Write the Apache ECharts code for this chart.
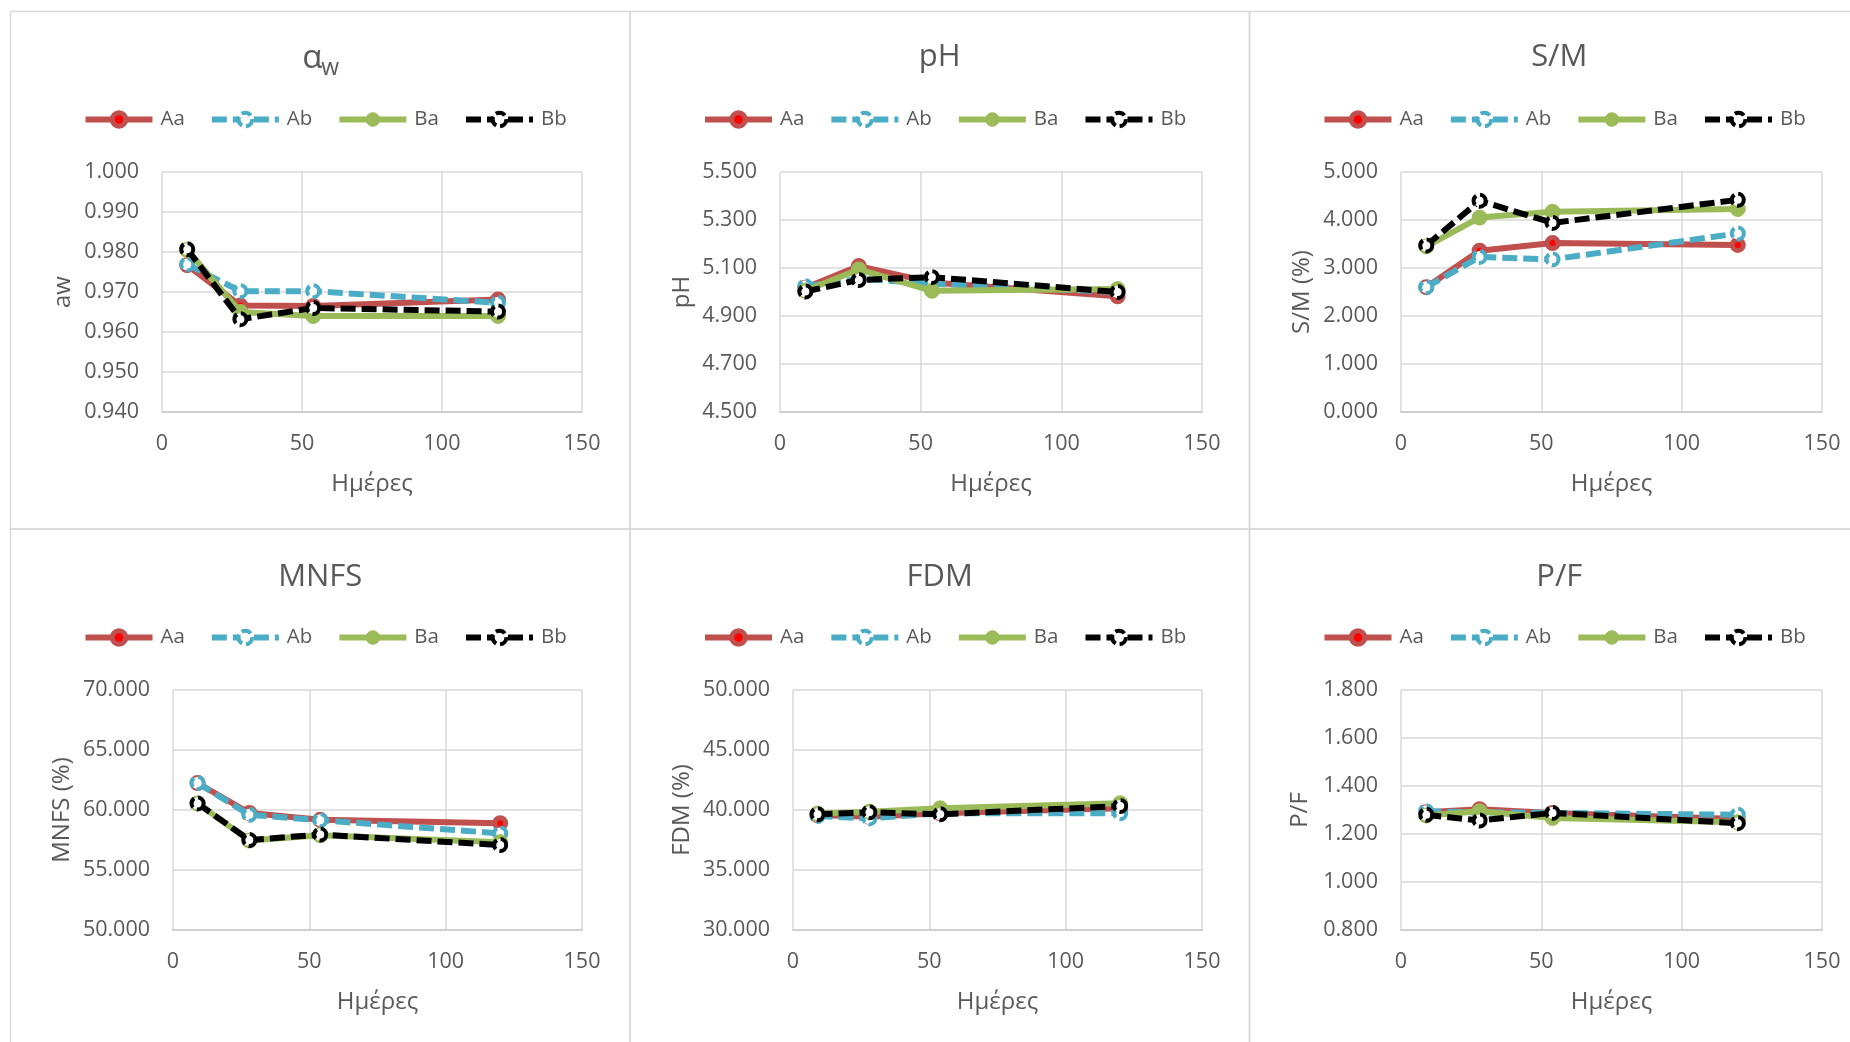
<!DOCTYPE html>
<html>
<head>
<meta charset="utf-8">
<script src="https://cdn.jsdelivr.net/npm/echarts@6/dist/echarts.min.js"></script>
<style>
  html, body { margin: 0; padding: 0; background: #ffffff; }
  #chart { width: 1850px; height: 1042px; }
</style>
</head>
<body>
<div id="chart"></div>
<script>
// Sampling days (x axis)
const days = [9, 28, 54, 120];
const groups = ['Aa', 'Ab', 'Ba', 'Bb'];

// Water activity
const awAa = [0.9767, 0.9666, 0.9665, 0.9681];
const awAb = [0.9769, 0.9702, 0.9702, 0.9673];
const awBa = [0.9805, 0.9650, 0.9640, 0.9640];
const awBb = [0.9807, 0.9632, 0.9660, 0.9651];

// pH
const phAa = [5.018, 5.108, 5.040, 4.982];
const phAb = [5.024, 5.055, 5.035, 5.000];
const phBa = [5.005, 5.094, 5.005, 5.012];
const phBb = [5.002, 5.050, 5.062, 5.000];

// Salt in moisture (%)
const smAa = [2.60, 3.36, 3.52, 3.48];
const smAb = [2.60, 3.23, 3.18, 3.72];
const smBa = [3.45, 4.05, 4.17, 4.23];
const smBb = [3.47, 4.40, 3.94, 4.42];

// Moisture in non-fat substance (%)
const mnfsAa = [62.25, 59.75, 59.18, 58.90];
const mnfsAb = [62.25, 59.60, 59.15, 58.05];
const mnfsBa = [60.55, 57.45, 57.90, 57.32];
const mnfsBb = [60.55, 57.50, 57.95, 57.08];

// Fat in dry matter (%)
const fdmAa = [39.58, 39.44, 39.72, 40.14];
const fdmAb = [39.50, 39.30, 39.72, 39.72];
const fdmBa = [39.70, 39.86, 40.14, 40.56];
const fdmBb = [39.64, 39.81, 39.64, 40.33];

// Protein / fat ratio
const pfAa = [1.291, 1.303, 1.287, 1.263];
const pfAb = [1.295, 1.290, 1.288, 1.280];
const pfBa = [1.277, 1.295, 1.267, 1.249];
const pfBb = [1.280, 1.256, 1.288, 1.245];

// Axis ranges: [min, max, step]
const xRange = [0, 150, 50];
const awRange = [0.94, 1.00, 0.01];
const phRange = [4.5, 5.5, 0.2];
const smRange = [0, 5, 1];
const mnfsRange = [50, 70, 5];
const fdmRange = [30, 50, 5];
const pfRange = [0.8, 1.8, 0.2];

const FONT = 'Open Sans';
const TEXT = '#595959';
const GRID_LINE = '#D9D9D9';

const groupStyles = {
  Aa: { line: '#C0504D', dash: 'solid', fill: '#FF0000', border: '#C0504D', bw: 5, size: 11, btype: 'solid' },
  Ab: { line: '#4BACC6', dash: [15, 6], fill: '#FFFFFF', border: '#4BACC6', bw: 4, size: 12, btype: [10, 4] },
  Ba: { line: '#9BBB59', dash: 'solid', fill: '#9BBB59', border: '#9BBB59', bw: 1, size: 15, btype: 'solid' },
  Bb: { line: '#000000', dash: [15, 6], fill: '#FFFFFF', border: '#000000', bw: 4, size: 12, btype: [10, 4] }
};

// Panel frames: three columns, two rows
const colX = [10.5, 630, 1249.5];
const colW = 619.5;
const rowY = [11.5, 529];
const rowH = 517.5;

const panels = [
  { title: 'aw', yName: 'aw', series: [awAa, awAb, awBa, awBb], range: awRange, col: 0, row: 0, gridLeft: 162, gridWidth: 420, nameGap: 87 },
  { title: 'pH', yName: 'pH', series: [phAa, phAb, phBa, phBb], range: phRange, col: 1, row: 0, gridLeft: 780, gridWidth: 422, nameGap: 86 },
  { title: 'S/M', yName: 'S/M (%)', series: [smAa, smAb, smBa, smBb], range: smRange, col: 2, row: 0, gridLeft: 1401, gridWidth: 421, nameGap: 87 },
  { title: 'MNFS', yName: 'MNFS (%)', series: [mnfsAa, mnfsAb, mnfsBa, mnfsBb], range: mnfsRange, col: 0, row: 1, gridLeft: 173, gridWidth: 409, nameGap: 99 },
  { title: 'FDM', yName: 'FDM (%)', series: [fdmAa, fdmAb, fdmBa, fdmBb], range: fdmRange, col: 1, row: 1, gridLeft: 793, gridWidth: 409, nameGap: 99 },
  { title: 'P/F', yName: 'P/F', series: [pfAa, pfAb, pfBa, pfBb], range: pfRange, col: 2, row: 1, gridLeft: 1401, gridWidth: 421, nameGap: 89 }
];

const gridTop = [172, 690];
const gridHeight = 240;
const titleY = [57.5, 577];
const legendTop = [109, 627];

const grid = [], xAxis = [], yAxis = [], series = [], legend = [], graphic = [];

panels.forEach((p, i) => {
  grid.push({ left: p.gridLeft, top: gridTop[p.row], width: p.gridWidth, height: gridHeight, containLabel: false });

  xAxis.push({
    type: 'value', gridIndex: i,
    min: xRange[0], max: xRange[1], interval: xRange[2],
    name: 'Ημέρες', nameLocation: 'middle', nameGap: 60,
    nameTextStyle: { fontFamily: FONT, fontSize: 24, color: TEXT },
    axisLine: { show: true, lineStyle: { color: '#CFCFCF', width: 2 } },
    axisTick: { show: false },
    axisLabel: { margin: 21, fontFamily: FONT, fontSize: 21.5, color: TEXT },
    splitLine: { show: true, lineStyle: { color: GRID_LINE, width: 1.5 } }
  });

  yAxis.push({
    type: 'value', gridIndex: i,
    min: p.range[0], max: p.range[1], interval: p.range[2],
    name: p.yName, nameLocation: 'middle', nameGap: p.nameGap,
    nameTextStyle: { fontFamily: FONT, fontSize: 24, color: TEXT },
    axisLine: { show: false },
    axisTick: { show: false },
    axisLabel: { margin: 23, fontFamily: FONT, fontSize: 21.5, color: TEXT,
      formatter: v => Number(v).toFixed(3) },
    splitLine: { show: true, lineStyle: { color: GRID_LINE, width: 1.5 } }
  });

  groups.forEach((g, k) => {
    const s = groupStyles[g];
    series.push({
      type: 'line', name: g, xAxisIndex: i, yAxisIndex: i,
      data: days.map((d, j) => [d, p.series[k][j]]),
      symbol: 'circle', symbolSize: s.size, showSymbol: true,
      lineStyle: { color: s.line, width: 6, type: s.dash, cap: 'butt' },
      itemStyle: { color: s.fill, borderColor: s.border, borderWidth: s.bw, borderType: s.btype },
      emphasis: { disabled: true },
      z: 2 + k
    });
  });

  legend.push({
    data: groups.map(g => {
      const s = groupStyles[g];
      return {
        name: g,
        itemStyle: { color: s.fill, borderColor: s.border, borderWidth: s.bw, borderType: s.btype },
        lineStyle: { color: s.line, width: 6, type: s.dash }
      };
    }),
    left: colX[p.col] + 72,
    top: legendTop[p.row],
    padding: 0,
    itemWidth: 67, itemHeight: 17, itemGap: 24,
    selectedMode: false,
    textStyle: { fontFamily: FONT, fontSize: 20.5, color: TEXT, padding: [0, 0, 0, 3] }
  });

  // panel frame
  graphic.push({
    type: 'rect', silent: true,
    shape: { x: colX[p.col], y: rowY[p.row], width: colW, height: rowH },
    style: { fill: null, stroke: GRID_LINE, lineWidth: 1.5 }
  });

  const cx = colX[p.col] + colW / 2;
  const cy = titleY[p.row];
  if (p.title === 'aw') {
    graphic.push({
      type: 'group', silent: true,
      children: [
        { type: 'text', x: cx - 8, y: cy + 1, style: { text: 'α', font: '33px "Open Sans"', fill: TEXT, align: 'center', verticalAlign: 'middle' } },
        { type: 'text', x: cx + 10, y: cy + 11, style: { text: 'w', font: '23px "Open Sans"', fill: TEXT, align: 'center', verticalAlign: 'middle' } }
      ]
    });
  } else {
    graphic.push({
      type: 'text', silent: true, x: cx, y: cy,
      style: { text: p.title, font: '31px "Open Sans"', fill: TEXT, align: 'center', verticalAlign: 'middle' }
    });
  }
});

const chart = echarts.init(document.getElementById('chart'), null, { renderer: 'canvas' });
chart.setOption({
  animation: false,
  backgroundColor: '#ffffff',
  textStyle: { fontFamily: FONT },
  grid, xAxis, yAxis, series, legend, graphic
});
</script>
</body>
</html>
